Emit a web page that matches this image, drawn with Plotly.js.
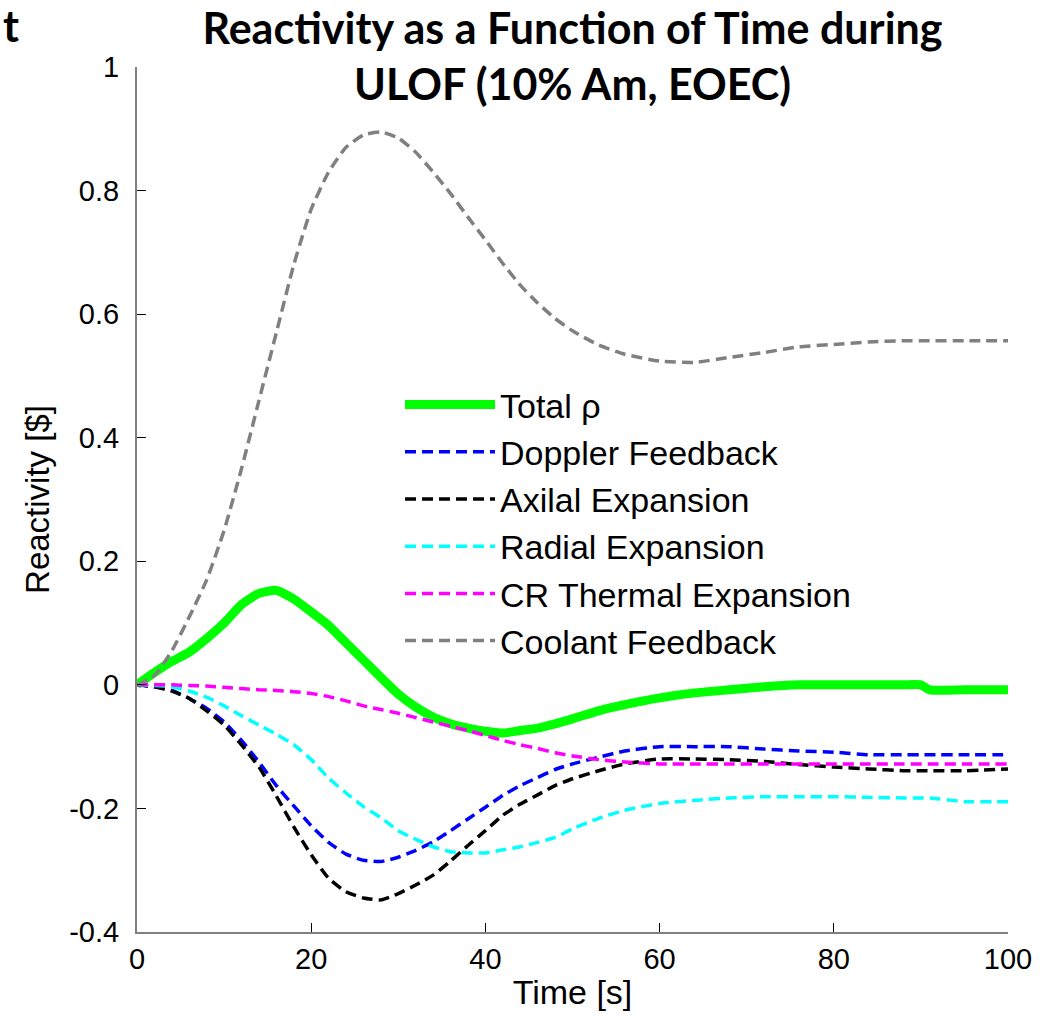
<!DOCTYPE html>
<html>
<head>
<meta charset="utf-8">
<script src="https://cdn.plot.ly/plotly-3.0.1.min.js"></script>
<style>html,body{margin:0;padding:0;background:#fff;}#chart{width:1055px;height:1020px;}</style>
</head>
<body>
<div id="chart"></div>
<script>
// Time grid [s]
const time = [0,2,4,6,8,10,12,14,16,18,20,22,24,26,28,30,32,34,36,38,40,42,44,46,48,50,53,56,60,64,68,72,76,80,84,88,90,91,95,100];

// Reactivity components [$]
const totalRho = [0,0.02,0.038,0.053,0.075,0.1,0.13,0.148,0.153,0.139,0.118,0.096,0.068,0.04,0.012,-0.015,-0.036,-0.052,-0.063,-0.07,-0.075,-0.078,-0.074,-0.07,-0.063,-0.055,-0.042,-0.032,-0.021,-0.013,-0.008,-0.003,0,0,0,0,0,-0.008,-0.008,-0.008];
const doppler = [0,-0.003,-0.009,-0.022,-0.038,-0.06,-0.09,-0.125,-0.163,-0.196,-0.228,-0.255,-0.274,-0.284,-0.286,-0.279,-0.268,-0.254,-0.236,-0.217,-0.198,-0.179,-0.163,-0.15,-0.137,-0.128,-0.117,-0.107,-0.1,-0.1,-0.1,-0.104,-0.107,-0.109,-0.113,-0.113,-0.113,-0.113,-0.113,-0.113];
const axial = [0,-0.003,-0.01,-0.022,-0.042,-0.065,-0.097,-0.133,-0.18,-0.23,-0.275,-0.313,-0.335,-0.345,-0.348,-0.338,-0.324,-0.308,-0.285,-0.26,-0.236,-0.211,-0.193,-0.178,-0.163,-0.152,-0.139,-0.128,-0.12,-0.12,-0.121,-0.124,-0.129,-0.133,-0.136,-0.139,-0.139,-0.139,-0.139,-0.136];
const radial = [0,-0.001,-0.003,-0.01,-0.02,-0.034,-0.05,-0.065,-0.08,-0.097,-0.121,-0.151,-0.175,-0.197,-0.215,-0.236,-0.25,-0.262,-0.27,-0.272,-0.272,-0.267,-0.262,-0.255,-0.247,-0.233,-0.216,-0.203,-0.192,-0.187,-0.183,-0.181,-0.181,-0.181,-0.182,-0.183,-0.183,-0.183,-0.189,-0.189];
const crThermal = [0,0,0,-0.001,-0.002,-0.004,-0.006,-0.008,-0.009,-0.011,-0.014,-0.019,-0.026,-0.034,-0.04,-0.046,-0.053,-0.06,-0.067,-0.074,-0.082,-0.09,-0.097,-0.103,-0.11,-0.115,-0.121,-0.125,-0.128,-0.128,-0.128,-0.128,-0.128,-0.128,-0.128,-0.128,-0.128,-0.128,-0.128,-0.128];
const coolant = [0,0.015,0.055,0.11,0.17,0.25,0.35,0.46,0.57,0.68,0.77,0.83,0.87,0.89,0.895,0.885,0.862,0.83,0.795,0.757,0.72,0.682,0.647,0.618,0.593,0.573,0.55,0.535,0.524,0.522,0.53,0.538,0.547,0.551,0.555,0.557,0.557,0.557,0.557,0.557];

const seriesNames = ['Total \u03c1','Doppler Feedback','Axilal Expansion','Radial Expansion','CR Thermal Expansion','Coolant Feedback'];
const seriesValues = [totalRho, doppler, axial, radial, crThermal, coolant];
const seriesColors = ['#00ff00','#0000ff','#000000','#00ffff','#ff00ff','#808080'];

const yTickVals = [-0.4,-0.2,0,0.2,0.4,0.6,0.8,1];
const yTickText = ['-0.4','-0.2','0','0.2','0.4','0.6','0.8','1'];
const xTickVals = [0,20,40,60,80,100];
const xTickText = ['0','20','40','60','80','100'];

const traces = seriesValues.map((vals, i) => ({
  x: time,
  y: vals,
  name: seriesNames[i],
  type: 'scatter',
  mode: 'lines',
  line: i === 0
    ? {color: seriesColors[i], width: 9, shape: 'spline', smoothing: 0.5}
    : {color: seriesColors[i], width: 3.5, dash: '11px,6px', shape: 'spline', smoothing: 0.5}
}));

const tickFont = {family: 'Liberation Sans, Arial, sans-serif', size: 29, color: '#000'};
const titleFont = {family: 'Lato, Open Sans, sans-serif', size: 43, color: '#000'};

const layout = {
  width: 1055,
  height: 1020,
  margin: {l: 137, r: 47, t: 67, b: 88},
  paper_bgcolor: '#fff',
  plot_bgcolor: '#fff',
  showlegend: true,
  title: {
    text: '<b>Reactivity as a Function of Time during<br>ULOF (10% Am, EOEC)</b>',
    font: titleFont,
    x: 0.5, xref: 'paper', xanchor: 'center',
    y: 1 - 44/1020, yref: 'container', yanchor: 'middle'
  },
  annotations: [{
    text: '<b>t</b>', xref: 'paper', yref: 'paper',
    x: (1-137)/871, y: (932-26)/865, xanchor: 'left', yanchor: 'middle',
    showarrow: false,
    font: titleFont
  }],
  xaxis: {
    range: [0, 100],
    tickvals: xTickVals, ticktext: xTickText,
    ticks: 'inside', ticklen: 9, tickwidth: 1.3, tickcolor: '#000',
    showline: true, linecolor: '#808080', linewidth: 2,
    showgrid: false, zeroline: false, mirror: false,
    tickfont: tickFont,
    title: {text: 'Time [s]', font: {family: 'Liberation Sans, Arial, sans-serif', size: 34, color: '#000'}, standoff: 6}
  },
  yaxis: {
    range: [-0.4, 1],
    tickvals: yTickVals, ticktext: yTickText,
    ticks: 'inside', ticklen: 9, tickwidth: 1.3, tickcolor: '#000',
    showline: true, linecolor: '#808080', linewidth: 2,
    showgrid: false, zeroline: false, mirror: false,
    tickfont: tickFont,
    ticklabelstandoff: 10,
    title: {text: 'Reactivity [$]', font: {family: 'Liberation Sans, Arial, sans-serif', size: 33, color: '#000'}, standoff: 10}
  },
  legend: {
    x: (400-137)/871, xanchor: 'left',
    y: (932-376)/865, yanchor: 'top',
    bgcolor: 'rgba(0,0,0,0)', borderwidth: 0,
    font: {family: 'Liberation Sans, Arial, sans-serif', size: 34, color: '#000'},
    itemwidth: 90,
    tracegroupgap: 0
  }
};

Plotly.newPlot('chart', traces, layout, {displayModeBar: false, responsive: false});
</script>
</body>
</html>
